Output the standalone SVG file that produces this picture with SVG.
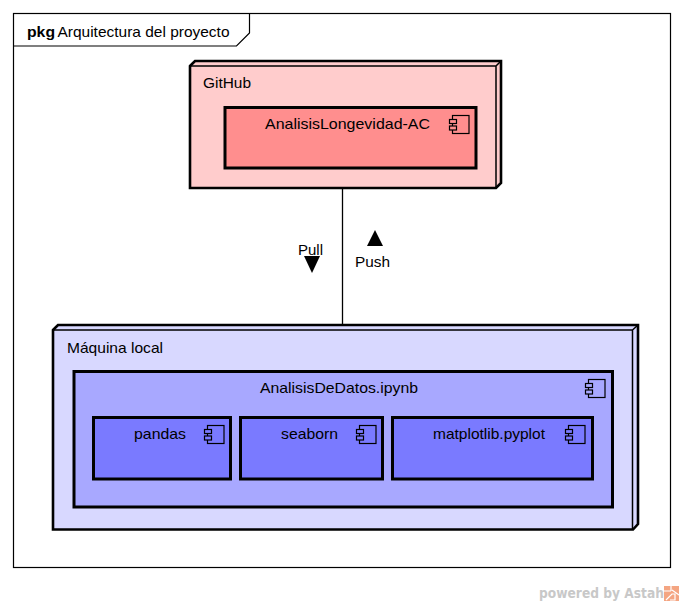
<svg xmlns="http://www.w3.org/2000/svg" width="684" height="606" viewBox="0 0 684 606">
<defs>
<g id="ci"><rect x="3" y="0" width="16.500" height="18" fill="none" stroke="#000" stroke-width="1.200"/><rect x="0" y="4" width="7" height="4" fill="inherit" stroke="#000" stroke-width="1.200"/><rect x="0" y="10.500" width="7" height="4" fill="inherit" stroke="#000" stroke-width="1.200"/></g>
</defs>
<style>
text{font-family:"Liberation Sans",Arial,sans-serif;font-size:15px;fill:#000}
.c{stroke:#000;stroke-width:3}
.s{stroke:#000;stroke-width:2.600;stroke-linejoin:miter}
</style>
<rect width="684" height="606" fill="#fff"/>
<g id="frame">
<rect x="13.500" y="13.500" width="657" height="554" fill="#fff" stroke="#000" stroke-width="1.200"/>
<path d="M13.500 46H236.500L249.500 33V13.500" fill="none" stroke="#000" stroke-width="1.200"/>
<text x="27" y="37" textLength="28" lengthAdjust="spacingAndGlyphs" style="font-weight:bold">pkg</text>
<text x="57.500" y="37" textLength="172" lengthAdjust="spacingAndGlyphs">Arquitectura del proyecto</text>
</g>
<g id="connectors">
<line x1="342.500" y1="188" x2="342.500" y2="332" stroke="#000" stroke-width="1.300"/>
<path d="M304 256H320L312 273Z" fill="#000"/>
<path d="M367 246H383L375 230Z" fill="#000"/>
<text x="298" y="255" textLength="25" lengthAdjust="spacingAndGlyphs">Pull</text>
<text x="355" y="267" textLength="35" lengthAdjust="spacingAndGlyphs">Push</text>
</g>
<g id="node-github">
<path d="M190 66L195 61H501V183L496 188H190Z" fill="#ffcccc" class="s"/>
<path d="M496 188V66H190M496 66L501 61" fill="none" stroke="#000" stroke-width="1.500"/>
<text x="203" y="88" textLength="48" lengthAdjust="spacingAndGlyphs">GitHub</text>
</g>
<g id="node-analisislongevidad">
<rect x="225" y="107.500" width="251" height="60.500" fill="#ff8e8e" class="c"/>
<text x="265" y="129" textLength="165" lengthAdjust="spacingAndGlyphs">AnalisisLongevidad-AC</text>
<use href="#ci" x="449.500" y="115.500" fill="#ff8e8e"/>
</g>
<g id="node-maquina">
<path d="M53 330L58 325H638V524L633 529.500H53Z" fill="#d8d8ff" class="s"/>
<path d="M632.500 529.500V330H53M632.500 330L638 325" fill="none" stroke="#000" stroke-width="1.500"/>
<text x="67" y="353" textLength="96" lengthAdjust="spacingAndGlyphs">Máquina local</text>
</g>
<g id="node-analisisdedatos">
<rect x="74" y="371.500" width="538.500" height="135.500" fill="#a8a8ff" class="c"/>
<text x="260" y="393" textLength="158" lengthAdjust="spacingAndGlyphs">AnalisisDeDatos.ipynb</text>
<use href="#ci" x="585.500" y="379.500" fill="#a8a8ff"/>
</g>
<g id="node-pandas">
<rect x="93.500" y="417.500" width="137" height="61.500" fill="#7a7aff" class="c"/>
<text x="134" y="439" textLength="52" lengthAdjust="spacingAndGlyphs">pandas</text>
<use href="#ci" x="204.500" y="425.500" fill="#7a7aff"/>
</g>
<g id="node-seaborn">
<rect x="240.500" y="417.500" width="142" height="61.500" fill="#7a7aff" class="c"/>
<text x="281" y="439" textLength="57" lengthAdjust="spacingAndGlyphs">seaborn</text>
<use href="#ci" x="356.500" y="425.500" fill="#7a7aff"/>
</g>
<g id="node-matplotlib">
<rect x="392.500" y="417.500" width="200" height="61.500" fill="#7a7aff" class="c"/>
<text x="433" y="439" textLength="112" lengthAdjust="spacingAndGlyphs">matplotlib.pyplot</text>
<use href="#ci" x="565.500" y="425.500" fill="#7a7aff"/>
</g>
<g id="watermark">
<text x="539" y="598" style="font-family:'DejaVu Sans',sans-serif;font-weight:bold;font-size:13.500px;fill:#c8c8c8" textLength="125" lengthAdjust="spacingAndGlyphs">powered by Astah</text>
<rect x="664" y="586" width="15" height="15" fill="#f4a582"/>
<path d="M664 591H671M671 586V591M672 590L679 595M666 600L672 594H675V600H670" stroke="#fff" stroke-width="1.200" fill="none"/>
</g>
</svg>
